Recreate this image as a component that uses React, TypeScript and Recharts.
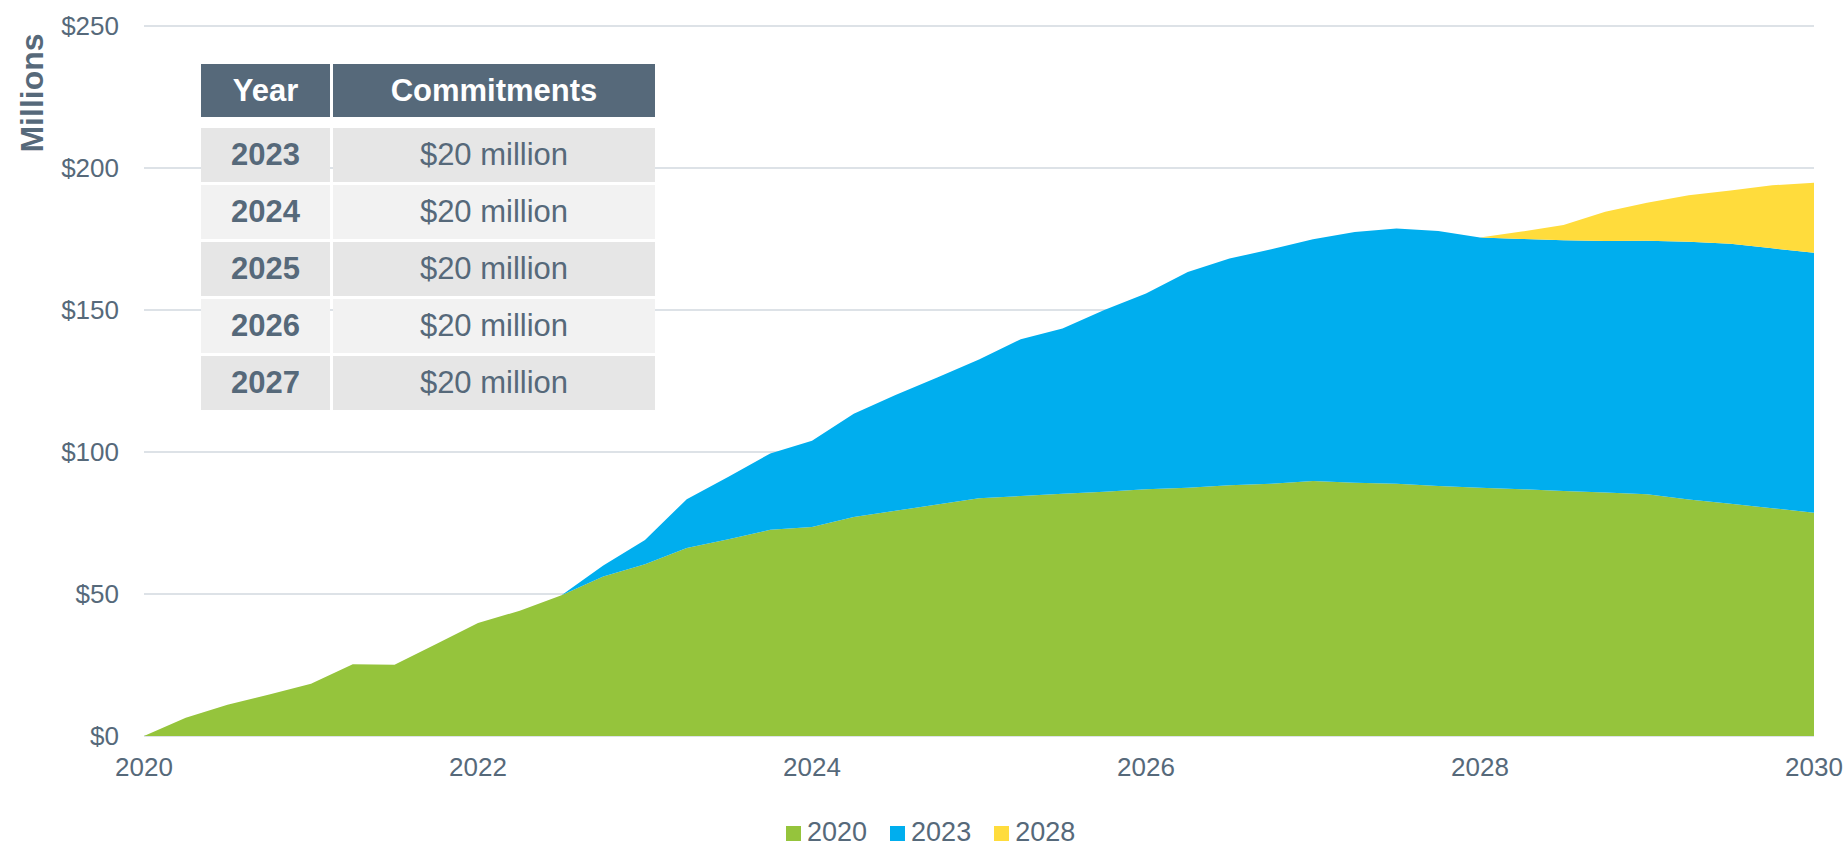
import React from 'react'
import {
  AreaChart,
  Area,
  XAxis,
  YAxis,
  CartesianGrid,
  Legend,
} from 'recharts'

const quarters = [
  2020, 2020.25, 2020.5, 2020.75,
  2021, 2021.25, 2021.5, 2021.75,
  2022, 2022.25, 2022.5, 2022.75,
  2023, 2023.25, 2023.5, 2023.75,
  2024, 2024.25, 2024.5, 2024.75,
  2025, 2025.25, 2025.5, 2025.75,
  2026, 2026.25, 2026.5, 2026.75,
  2027, 2027.25, 2027.5, 2027.75,
  2028, 2028.25, 2028.5, 2028.75,
  2029, 2029.25, 2029.5, 2029.75,
  2030,
]

// $ millions, one value per quarter
const vintage2020 = [
  0, 6.4, 11, 14.6,
  18.4, 25.3, 25.1, 32.4,
  39.8, 44.1, 49.6, 56.2,
  60.5, 66.2, 69.3, 72.6,
  73.6, 77.1, 79.3, 81.5,
  83.7, 84.5, 85.3, 86,
  86.9, 87.4, 88.3, 88.8,
  89.8, 89.2, 88.8, 88,
  87.4, 86.9, 86.3, 85.7,
  85.1, 83.3, 81.8, 80.2,
  78.6,
]

const vintage2023 = [
  null, null, null, null,
  null, null, null, null,
  null, null, 0, 3.8,
  8.5, 17.2, 22, 26.9,
  30.4, 36.4, 40.8, 44.7,
  48.9, 55.2, 58.2, 64,
  68.9, 76, 79.8, 82.6,
  85.1, 88.3, 89.9, 89.8,
  88.1, 88.1, 88.3, 88.6,
  89.3, 90.7, 91.5, 91.5,
  91.6,
]

const vintage2028 = [
  null, null, null, null,
  null, null, null, null,
  null, null, null, null,
  null, null, null, null,
  null, null, null, null,
  null, null, null, null,
  null, null, null, null,
  null, null, null, null,
  0, 2.6, 5.3, 10.3,
  13.4, 16.4, 18.8, 22.2,
  24.6,
]

const xTicks = [2020, 2022, 2024, 2026, 2028, 2030]
const yTicks = [0, 50, 100, 150, 200, 250]

const commitmentYears = ['2023', '2024', '2025', '2026', '2027']
const commitmentAmounts = ['$20 million', '$20 million', '$20 million', '$20 million', '$20 million']

const SERIES = [
  { key: 'v2020', name: '2020', color: '#95C43C' },
  { key: 'v2023', name: '2023', color: '#00AEEE' },
  { key: 'v2028', name: '2028', color: '#FFDC3C' },
]

const SLATE = '#56697A'
const FONT = '"Liberation Sans", Arial, sans-serif'

const data = quarters.map((year, i) => ({
  year,
  v2020: vintage2020[i],
  v2023: vintage2023[i],
  v2028: vintage2028[i],
}))

function LegendContent() {
  return (
    <div style={{ display: 'flex', alignItems: 'center', height: 27, paddingLeft: 786, fontFamily: FONT }}>
      {SERIES.map((s, i) => (
        <div key={s.key} style={{ display: 'flex', alignItems: 'center', marginRight: i < SERIES.length - 1 ? 23 : 0 }}>
          <span style={{ width: 15, height: 15, background: s.color, display: 'inline-block', marginRight: 6, marginTop: 2 }} />
          <span style={{ color: SLATE, fontSize: 27, lineHeight: '27px' }}>{s.name}</span>
        </div>
      ))}
    </div>
  )
}

function CommitmentsTable() {
  const cell: React.CSSProperties = {
    display: 'flex',
    alignItems: 'center',
    justifyContent: 'center',
    fontSize: 31,
    color: SLATE,
  }
  return (
    <div
      style={{
        position: 'absolute',
        left: 201,
        top: 64,
        display: 'grid',
        gridTemplateColumns: '129px 322px',
        gridTemplateRows: '53px 5px 54px 54px 54px 54px 54px',
        columnGap: 3,
        rowGap: 3,
        fontFamily: FONT,
      }}
    >
      <div style={{ ...cell, background: SLATE, color: '#FFFFFF', fontWeight: 700 }}>Year</div>
      <div style={{ ...cell, background: SLATE, color: '#FFFFFF', fontWeight: 700 }}>Commitments</div>
      <div />
      <div />
      {commitmentYears.map((y, i) => {
        const bg = i % 2 === 0 ? '#E6E6E6' : '#F2F2F2'
        return (
          <React.Fragment key={y}>
            <div style={{ ...cell, background: bg, fontWeight: 700 }}>{y}</div>
            <div style={{ ...cell, background: bg }}>{commitmentAmounts[i]}</div>
          </React.Fragment>
        )
      })}
    </div>
  )
}

export default function App() {
  return (
    <div style={{ position: 'absolute', left: 0, top: 0, width: 1847, height: 846, background: '#FFFFFF' }}>
      <AreaChart
        width={1847}
        height={846}
        data={data}
        margin={{ top: 26, right: 33, bottom: 0, left: 0 }}
        style={{ fontFamily: FONT }}
      >
        <CartesianGrid vertical={false} stroke="#DDE2E7" strokeWidth={2} />
        <XAxis
          dataKey="year"
          type="number"
          domain={[2020, 2030]}
          ticks={xTicks}
          axisLine={false}
          tickLine={false}
          tickSize={0}
          tickMargin={22}
          height={83}
          tick={{ fill: SLATE, fontSize: 26 }}
        />
        <YAxis
          domain={[0, 250]}
          ticks={yTicks}
          axisLine={false}
          tickLine={false}
          tickSize={0}
          tickMargin={25}
          width={144}
          tick={{ fill: SLATE, fontSize: 26 }}
          tickFormatter={(v: number) => `$${v}`}
          label={{
            content: () => (
              <text
                x={43}
                y={93}
                transform="rotate(-90, 43, 93)"
                textAnchor="middle"
                fill={SLATE}
                fontSize={32}
                fontWeight={700}
              >
                Millions
              </text>
            ),
          }}
        />
        {SERIES.map((s) => (
          <Area
            key={s.key}
            type="linear"
            dataKey={s.key}
            name={s.name}
            stackId="a"
            stroke="none"
            fill={s.color}
            fillOpacity={1}
            isAnimationActive={false}
          />
        ))}
        <Legend
          verticalAlign="bottom"
          height={27}
          content={() => <LegendContent />}
          wrapperStyle={{ left: 0, top: 819, width: 1847, height: 27 }}
        />
      </AreaChart>
      <CommitmentsTable />
    </div>
  )
}
